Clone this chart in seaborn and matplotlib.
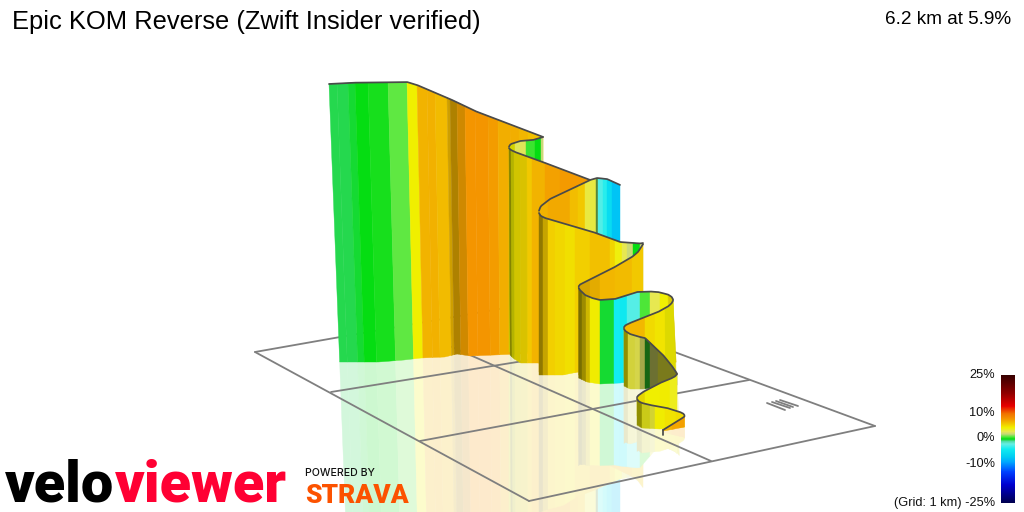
import numpy as np
import pandas as pd
import seaborn as sns
import matplotlib
matplotlib.use("Agg")
import matplotlib.pyplot as plt
from matplotlib.colors import LinearSegmentedColormap, Normalize

# ---------- colour scale (gradient % -> colour)
scale_grades = [-25, -18, -13, -9, -7, -4, -2, -1, -0.4, 0, 1, 2, 3, 4.5, 6, 7, 8, 10, 13, 18, 25]
scale_colors = ['#000050', '#0000d0', '#0040ff', '#00a8ff', '#00cdf2', '#10ecf0', '#66eee4',
                '#50dca8', '#22d848', '#00dc10', '#5ce840', '#c8d878', '#e8e850', '#f0f000',
                '#f2c800', '#f2ae00', '#f49400', '#f07000', '#e80000', '#900000', '#380000']
legend_ticks = ['25%', '10%', '0%', '-10%', '(Grid: 1 km) -25%']
legend_y = [375, 413, 438, 464, 503]

# ---------- ribbon faces: top/bottom outline, band edges, band grades, band shading
w1_top_x = [329, 353, 407, 417, 450, 475, 543]
w1_top_y = [84, 82.7, 82, 85, 99, 111, 137]
w1_bot_x = [329, 370, 397, 415, 440, 453, 467, 543]
w1_bot_y = [362, 362, 360, 358, 357, 354, 356, 353]
w1_edges = [329, 337, 348, 355, 368, 388, 407, 417, 427, 435, 447, 450, 457, 465, 475, 488, 498, 510, 519, 528, 543]
w1_grade = [-0.45, -0.4, -0.25, 0, 0.2, 1, 4.5, 6.8, 6.9, 6.5, 6.5, 6.8, 7.5, 8, 8, 7.7, 7, 7, 6.7, 6.3]
w1_shade = [1, 1, 1, 1, 1, 1, 1, 1, 1, 1, .85, .72, .85, 1, 1, 1, 1, 1, 1, 1]

w2_top_x = [509, 509.4, 511, 520, 533, 543]
w2_top_y = [147.5, 145.5, 144, 141, 140, 137]
w2_bot_x = [509, 543]
w2_bot_y = [352, 352]
w2_edges = [509, 515, 526, 535, 541, 543]
w2_grade = [4.5, 2.8, 0.6, 0, 2]
w2_shade = [.88, 1, 1, 1, 1]

w3_top_x = [509, 509.4, 511, 515, 540, 590]
w3_top_y = [147.5, 149, 150, 152, 161, 180]
w3_bot_x = [509, 512, 520, 538, 590]
w3_bot_y = [355, 358, 363, 363, 372]
w3_edges = [509, 511, 514, 520, 527, 532, 545, 560, 575, 590]
w3_grade = [4.5, 4.5, 5, 5.4, 6, 6.8, 7.5, 7.8, 7.8]
w3_shade = [.55, .75, .87, .9, 1, 1, 1, 1, 1]

w4_top_x = [539, 539.4, 541, 545, 550, 590, 597, 607, 620]
w4_top_y = [212, 209, 206, 203, 199, 180, 178, 179, 185]
w4_bot_x = [539, 620]
w4_bot_y = [372, 372]
w4_edges = [539, 548, 570, 578, 585, 596, 598, 603, 607, 612, 620]
w4_grade = [6.8, 7.2, 6.4, 6, 3.3, 1.5, -2.5, -3.5, -5.5, -7.5]
w4_shade = [1, 1, 1, 1, 1, .6, 1, 1, 1, 1]

w5_top_x = [539, 539.4, 541, 545, 593, 620, 633, 640, 643]
w5_top_y = [212, 214.5, 216, 218, 232, 242, 243, 243.5, 243]
w5_bot_x = [539, 563, 578, 643]
w5_bot_y = [375, 375, 372, 368]
w5_edges = [539, 543, 548, 555, 565, 575, 590, 610, 615, 622, 627, 633, 640, 643]
w5_grade = [6, 6, 5.7, 5.4, 5.1, 5.7, 6.3, 5.5, 4.2, 3, 2.1, 0, 2]
w5_shade = [.6, .82, 1, 1, 1, 1, 1, 1, 1, 1, 1, 1, 1]

w6_top_x = [578.7, 579.2, 581, 585, 613, 632, 638, 643]
w6_top_y = [287, 285, 284, 282, 268, 257, 252, 244]
w6_bot_x = [578.7, 643]
w6_bot_y = [375, 375]
w6_edges = [578.7, 590, 600, 615, 632, 643]
w6_grade = [6.5, 6.7, 6.7, 6.5, 6]
w6_shade = [.88, .94, 1, 1, 1]

w7_top_x = [578.7, 579.2, 581, 585, 592, 600, 615, 637, 650, 658, 668, 672, 673]
w7_top_y = [287, 289.5, 291, 295, 298, 300, 299, 292, 291.5, 292, 294.5, 297, 300]
w7_bot_x = [578.7, 587, 600, 620, 640, 650, 673]
w7_bot_y = [378, 382, 384, 383, 381, 375, 362]
w7_edges = [578.7, 582, 586, 590, 600, 614, 620, 627, 640, 650, 660, 668, 673]
w7_grade = [5.2, 5.4, 5.4, 4.6, -0.2, -4, -4.3, -2.4, 0.8, 3, 4.4, 5]
w7_shade = [.5, .65, .85, 1, 1, 1, 1, 1, 1, 1, 1, .9]

w8_top_x = [624, 624.4, 626, 630, 658, 668, 672, 673]
w8_top_y = [328, 326, 325, 323, 312, 306.5, 303, 300]
w8_bot_x = [624, 673]
w8_bot_y = [378, 378]
w8_edges = [624, 645, 655, 665, 673]
w8_grade = [6.6, 5.3, 4.9, 4.6]
w8_shade = [1, 1, 1, .92]

w9_top_x = [624, 624.4, 626, 630, 638, 645, 663, 672, 676, 677]
w9_top_y = [328, 330, 331.5, 334, 336.5, 338, 355, 366, 372, 374]
w9_bot_x = [624, 630, 643, 677]
w9_bot_y = [386, 389, 389, 385]
w9_edges = [624, 628, 635, 640, 645, 650, 658, 677]
w9_grade = [4.5, 3.3, 3, 2.6, 0.5, 2.5, 3.5]
w9_shade = [.6, .9, .92, .75, .45, .5, .52]

w10_top_x = [637, 637.4, 639, 643, 660, 670, 675, 677]
w10_top_y = [398, 396, 395, 392, 383, 379, 376.5, 374]
w10_bot_x = [637, 677]
w10_bot_y = [416, 416]
w10_edges = [637, 645, 660, 670, 677]
w10_grade = [5, 4.5, 4.6, 4]
w10_shade = [.95, 1, 1, 1]

w11_top_x = [637, 637.4, 639, 642, 650, 667, 680, 684, 684.5]
w11_top_y = [398, 400, 401.5, 403, 405, 408, 412, 414, 416]
w11_bot_x = [637, 642, 660, 684.5]
w11_bot_y = [425, 428, 429, 427]
w11_edges = [637, 642, 650, 655, 665, 676, 684.5]
w11_grade = [4.5, 4, 3.5, 4.6, 5, 5.2]
w11_shade = [.6, .85, .9, 1, 1, 1]

w12_top_x = [663, 672, 680, 684, 684.5]
w12_top_y = [430, 424.5, 419.5, 417, 416]
w12_bot_x = [663, 672, 684.5]
w12_bot_y = [431, 429.5, 427]
w12_edges = [663, 672, 680, 684.5]
w12_grade = [6.8, 7.3, 7.6]
w12_shade = [1, 1, 1]

# height of each face's reflection relative to the face itself
mirror_scale = [.9, .9, .9, .9, .86, .86, .97, 1, 1, .9, 1, 1]

walls = [
    (w1_top_x, w1_top_y, w1_bot_x, w1_bot_y, w1_edges, w1_grade, w1_shade, 'left'),
    (w2_top_x, w2_top_y, w2_bot_x, w2_bot_y, w2_edges, w2_grade, w2_shade, None),
    (w3_top_x, w3_top_y, w3_bot_x, w3_bot_y, w3_edges, w3_grade, w3_shade, 'left'),
    (w4_top_x, w4_top_y, w4_bot_x, w4_bot_y, w4_edges, w4_grade, w4_shade, None),
    (w5_top_x, w5_top_y, w5_bot_x, w5_bot_y, w5_edges, w5_grade, w5_shade, None),
    (w6_top_x, w6_top_y, w6_bot_x, w6_bot_y, w6_edges, w6_grade, w6_shade, None),
    (w7_top_x, w7_top_y, w7_bot_x, w7_bot_y, w7_edges, w7_grade, w7_shade, 'right'),
    (w8_top_x, w8_top_y, w8_bot_x, w8_bot_y, w8_edges, w8_grade, w8_shade, 'right'),
    (w9_top_x, w9_top_y, w9_bot_x, w9_bot_y, w9_edges, w9_grade, w9_shade, None),
    (w10_top_x, w10_top_y, w10_bot_x, w10_bot_y, w10_edges, w10_grade, w10_shade, None),
    (w11_top_x, w11_top_y, w11_bot_x, w11_bot_y, w11_edges, w11_grade, w11_shade, None),
    (w12_top_x, w12_top_y, w12_bot_x, w12_bot_y, w12_edges, w12_grade, w12_shade, None),
]

# ---------- ground grid
grid_lines = {
    'outer_left':  ([255, 539], [352, 302]),
    'outer_front': ([255, 529], [352, 501]),
    'outer_right': ([529, 875], [501, 426]),
    'outer_back':  ([539, 875], [302, 426]),
    'cross_a':     ([331, 660], [392, 339]),
    'cross_b':     ([420, 749], [441, 380]),
    'long_a':      ([445, 711], [344, 461]),
    'island_a':    ([767, 785], [403, 410]),
    'island_b':    ([772, 790], [402, 408]),
    'island_c':    ([776, 793], [401, 407]),
    'island_d':    ([780, 798], [400, 406]),
}

sns.set_theme(style='white')
plt.rcParams['font.family'] = ['Liberation Sans', 'DejaVu Sans']

fig = plt.figure(figsize=(10.24, 5.12), dpi=100)
ax = fig.add_axes([0, 0, 1, 1])


def frame():
    ax.set_xlim(0, 1024)
    ax.set_ylim(512, 0)
    ax.axis('off')


frame()

cmap = LinearSegmentedColormap.from_list(
    'grade', [((g + 25) / 50, c) for g, c in zip(scale_grades, scale_colors)], N=512)
norm = Normalize(-25, 25)


def curve(kx, ky):
    xs = np.arange(kx[0], kx[-1] + 0.125, 0.125)
    ys = np.interp(xs, kx, ky)
    k = 13
    pad = np.concatenate([np.full(k, ys[0]), ys, np.full(k, ys[-1])])
    sm = np.convolve(pad, np.ones(k) / k, mode='same')[k:-k]
    return xs, sm


def lean(x, kind):
    x = np.asarray(x, float)
    if kind == 'left':
        return np.clip(530 - x, 0, None) * 0.053
    if kind == 'right':
        return np.clip(x - 664, 0, None) * 0.35
    return np.zeros_like(x)


def band_polys(wall):
    tx, ty, bx, by, edges, grades, shades, kind = wall
    cx, cy = curve(tx, ty)
    bxx, byy = curve(bx, by)
    out = []
    for i, (g, s) in enumerate(zip(grades, shades)):
        mask = (cx >= edges[i]) & (cx <= edges[i + 1])
        xs = np.concatenate([[edges[i]], cx[mask], [edges[i + 1]]])
        top = np.interp(xs, cx, cy)
        bot = np.interp(xs, bxx, byy)
        col = np.array(cmap(norm(g))[:3]) * s
        out.append((xs, top, xs + lean(xs, kind), bot, col))
    return out


# reflections
z = 1
for wall, m in zip(walls, mirror_scale):
    for xs, top, xb, bot, col in band_polys(wall):
        pale = 0.2 * col + 0.8
        ym = bot + m * (bot - top)
        xm = xb + m * (xb - xs)
        ax.fill(np.r_[xb, xm[::-1]], np.r_[bot, ym[::-1]], color=pale, lw=0.3, zorder=z)
    z += 1

# ground grid on the reflections
grid_df = pd.DataFrame(
    [(k, x, y) for k, (xs, ys) in grid_lines.items() for x, y in zip(xs, ys)],
    columns=['line', 'x', 'y'])
sns.lineplot(data=grid_df, x='x', y='y', units='line', estimator=None, sort=False,
             color='#7f7f7f', lw=1.3, ax=ax, zorder=50, legend=False)
frame()

# ribbon, back to front
z = 100
for wall in walls:
    for xs, top, xb, bot, col in band_polys(wall):
        ax.fill(np.r_[xs, xb[::-1]], np.r_[top, bot[::-1]], color=col, lw=0.3, zorder=z)
    cx, cy = curve(wall[0], wall[1])
    sns.lineplot(x=cx, y=cy, sort=False, estimator=None, color='#4a4a4a', lw=1.25,
                 ax=ax, zorder=z + 0.5, legend=False)
    z += 1
sns.lineplot(x=[663, 663], y=[430, 435], sort=False, estimator=None, color='#4a4a4a',
             lw=1.25, ax=ax, zorder=z, legend=False)
frame()

# titles
ax.text(12, 22, 'Epic KOM Reverse (Zwift Insider verified)', fontsize=18.4, color='black',
        ha='left', va='center', zorder=300)
ax.text(1011, 20, '6.2 km at 5.9%', fontsize=13.7, color='black', ha='right', va='center', zorder=300)

# colour bar
cax = fig.add_axes([1001 / 1024, 1 - 503 / 512, 14 / 1024, 128 / 512])
bar = pd.DataFrame(np.linspace(25, -25, 128).reshape(-1, 1))
sns.heatmap(bar, cmap=cmap, vmin=-25, vmax=25, cbar=False, ax=cax,
            xticklabels=False, yticklabels=False)
cax.set_xlabel('')
cax.set_ylabel('')
for lab, y in zip(legend_ticks, legend_y):
    ax.text(995, y, lab, fontsize=9.2, ha='right', va='center', color='#111111', zorder=300)

# logos
ax.text(5, 502, 'velo', fontsize=41.5, fontweight='black', family='Roboto', color='black',
        ha='left', va='baseline', zorder=300)
ax.text(287, 502, 'viewer', fontsize=41.5, fontweight='black', family='Roboto', color='#ff0033',
        ha='right', va='baseline', zorder=301)
ax.text(305, 473, 'POWERED BY', fontsize=7.6, family='Inter', fontweight='medium', color='#111111',
        ha='left', va='center', zorder=300)
ax.text(305, 503, 'STRAVA', fontsize=19, family='Roboto', fontweight='black', color='#fc5200',
        ha='left', va='baseline', zorder=300)

fig.savefig('out.png', dpi=100)
